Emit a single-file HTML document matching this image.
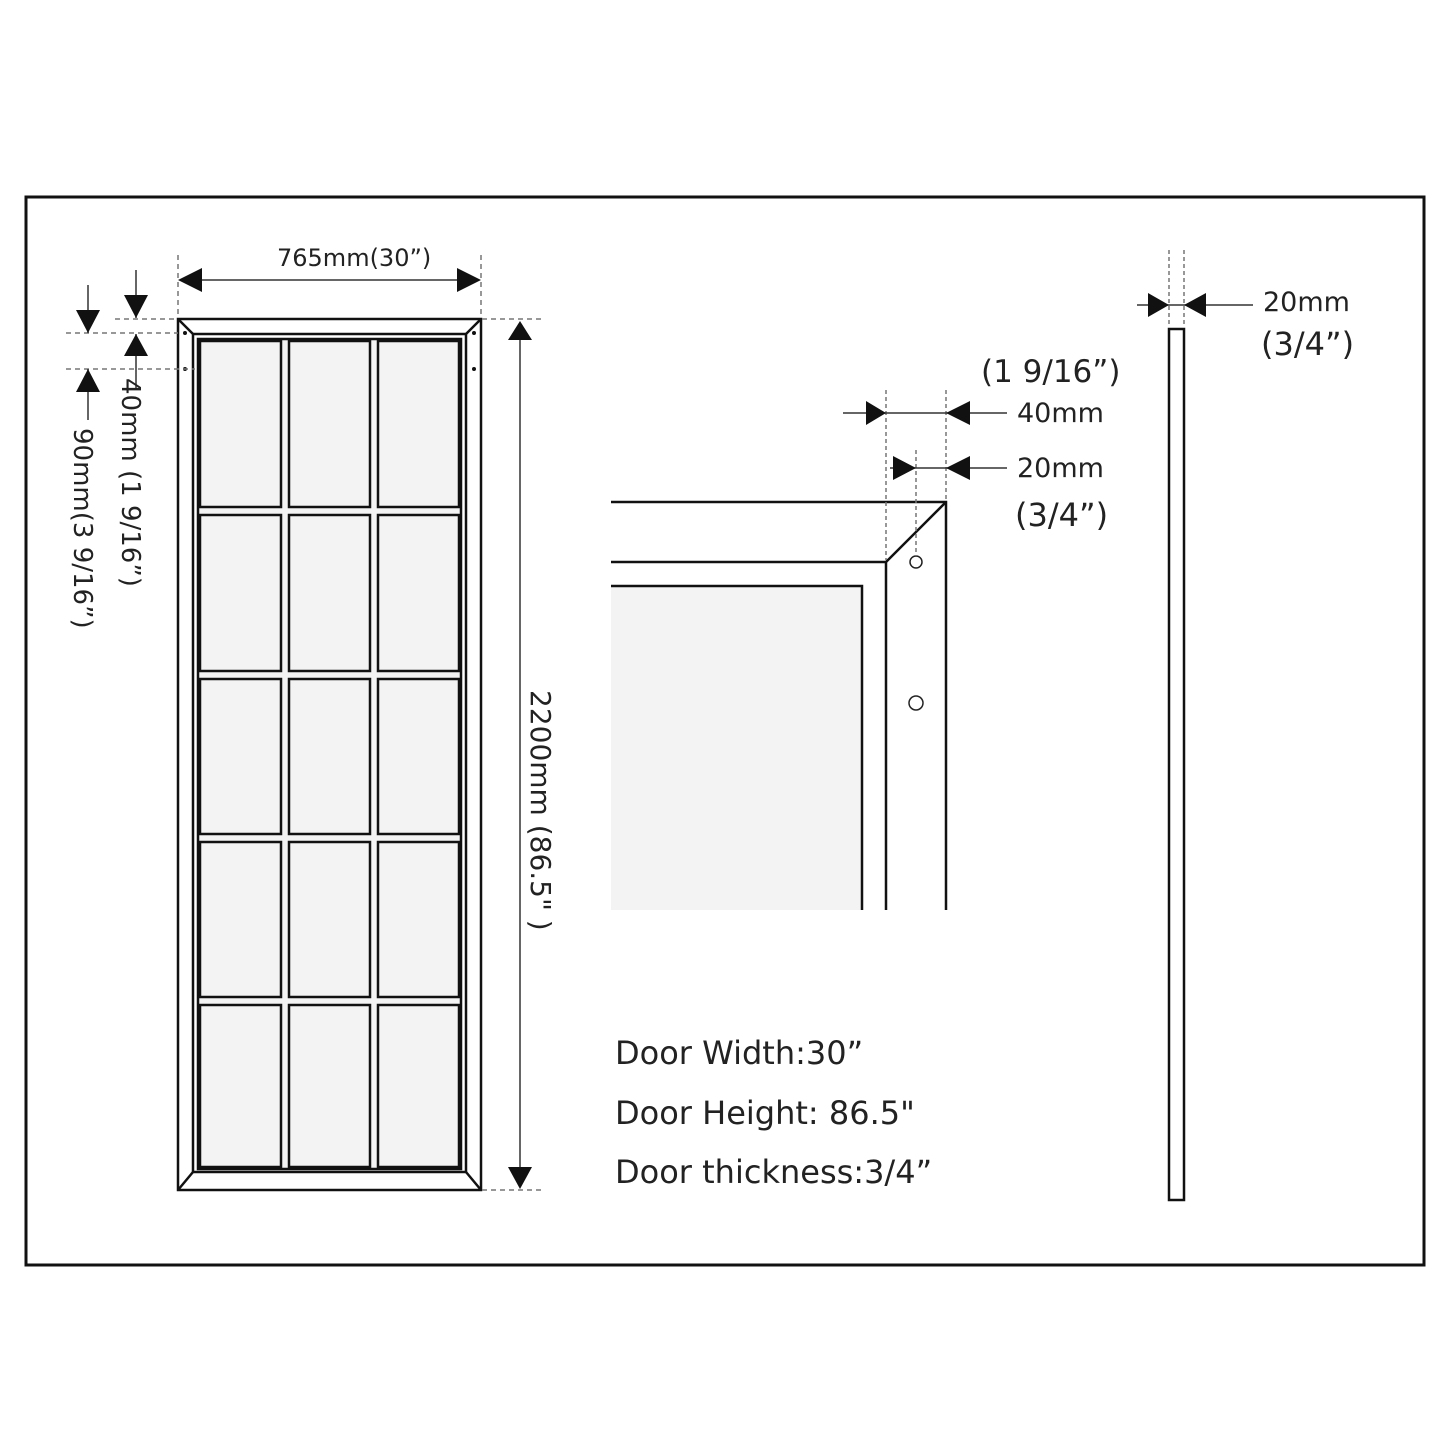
<!DOCTYPE html>
<html><head><style>
html,body{margin:0;padding:0;background:#fff}
svg{display:block}
text{font-family:"DejaVu Sans","Liberation Sans",sans-serif;fill:#222}
</style></head><body>
<svg width="1445" height="1445" viewBox="0 0 1445 1445" xmlns="http://www.w3.org/2000/svg">
<rect x="26" y="197" width="1398" height="1068" fill="none" stroke="#111" stroke-width="3"/>

<!-- main door -->
<g stroke="#111" fill="none" stroke-width="2.5">
<rect x="178" y="319" width="303" height="871" fill="#fff"/>
<rect x="193" y="334" width="273" height="838"/>
<line x1="178" y1="319" x2="193" y2="334"/><line x1="481" y1="319" x2="466" y2="334"/>
<line x1="178" y1="1190" x2="193" y2="1172"/><line x1="481" y1="1190" x2="466" y2="1172"/>
<rect x="198" y="339" width="263" height="830" fill="#f3f3f3"/>
</g>
<g stroke="#111" fill="#f3f3f3" stroke-width="2.5">
<rect x="200" y="341" width="81" height="166"/><rect x="289" y="341" width="81" height="166"/><rect x="378" y="341" width="81" height="166"/>
<rect x="200" y="515" width="81" height="156"/><rect x="289" y="515" width="81" height="156"/><rect x="378" y="515" width="81" height="156"/>
<rect x="200" y="679" width="81" height="155"/><rect x="289" y="679" width="81" height="155"/><rect x="378" y="679" width="81" height="155"/>
<rect x="200" y="842" width="81" height="155"/><rect x="289" y="842" width="81" height="155"/><rect x="378" y="842" width="81" height="155"/>
<rect x="200" y="1005" width="81" height="162"/><rect x="289" y="1005" width="81" height="162"/><rect x="378" y="1005" width="81" height="162"/>
</g>
<g fill="#111"><circle cx="185" cy="333" r="2"/><circle cx="185" cy="369" r="2"/><circle cx="474" cy="333" r="2"/><circle cx="474" cy="369" r="2"/></g>

<g stroke="#777" stroke-width="1.5" stroke-dasharray="5,4" fill="none">
<line x1="178" y1="255" x2="178" y2="318"/><line x1="481" y1="255" x2="481" y2="318"/>
<line x1="115" y1="319" x2="178" y2="319"/><line x1="482" y1="319" x2="545" y2="319"/>
<line x1="66" y1="333" x2="178" y2="333"/><line x1="66" y1="369" x2="195" y2="369"/>
<line x1="482" y1="1190" x2="545" y2="1190"/>
</g>
<g stroke="#333" stroke-width="1.5" fill="none">
<line x1="185" y1="280" x2="474" y2="280"/>
<line x1="520" y1="330" x2="520" y2="1180"/>
<line x1="136" y1="270" x2="136" y2="318"/>
<line x1="136" y1="334" x2="136" y2="388"/>
<line x1="88" y1="285" x2="88" y2="333"/>
<line x1="88" y1="369" x2="88" y2="420"/>
</g>
<g fill="#111">
<path d="M178,280 L202,268 L202,292z"/><path d="M481,280 L457,268 L457,292z"/>
<path d="M520,321 L508,340 L532,340z"/><path d="M520,1189 L508,1167 L532,1167z"/>
<path d="M136,318 L124,295 L148,295z"/><path d="M136,334 L124,356 L148,356z"/>
<path d="M88,333 L76,310 L100,310z"/><path d="M88,369 L76,392 L100,392z"/>
</g>
<text x="277" y="266" font-size="24">765mm(30”)</text>
<text transform="translate(122,378) rotate(90)" font-size="26">40mm (1 9/16”)</text>
<text transform="translate(74,428) rotate(90)" font-size="26">90mm(3 9/16”)</text>
<text transform="translate(531,690) rotate(90)" font-size="28">2200mm (86.5" )</text>

<!-- corner detail -->
<rect x="611" y="586" width="251" height="324" fill="#f3f3f3"/>
<g stroke="#111" stroke-width="2.5" fill="none">
<polyline points="611,502 946,502 946,910"/>
<polyline points="611,562 886,562 886,910"/>
<polyline points="611,586 862,586 862,910"/>
<line x1="886" y1="562" x2="946" y2="502"/>
</g>
<circle cx="916" cy="562" r="6" fill="none" stroke="#222" stroke-width="1.5"/>
<circle cx="916" cy="703" r="7" fill="none" stroke="#222" stroke-width="1.5"/>
<g stroke="#777" stroke-width="1.5" stroke-dasharray="4,3">
<line x1="886" y1="390" x2="886" y2="560"/><line x1="946" y1="390" x2="946" y2="500"/><line x1="916" y1="450" x2="916" y2="556"/>
</g>
<g stroke="#333" stroke-width="1.5">
<line x1="843" y1="413" x2="1007" y2="413"/>
<line x1="890" y1="468" x2="1007" y2="468"/>
</g>
<g fill="#111">
<path d="M886,413 L866,401 L866,425z"/><path d="M946,413 L970,401 L970,425z"/>
<path d="M916,468 L893,456 L893,480z"/><path d="M946,468 L970,456 L970,480z"/>
</g>
<text x="981" y="382" font-size="31">(1 9/16”)</text>
<text x="1017" y="422" font-size="27">40mm</text>
<text x="1017" y="477" font-size="27">20mm</text>
<text x="1015" y="526" font-size="32">(3/4”)</text>

<!-- thickness -->
<rect x="1169" y="329" width="15" height="871" fill="#fff" stroke="#111" stroke-width="2.5"/>
<g stroke="#777" stroke-width="1.5" stroke-dasharray="4,3">
<line x1="1169" y1="250" x2="1169" y2="325"/><line x1="1184" y1="250" x2="1184" y2="325"/>
</g>
<line x1="1137" y1="305" x2="1253" y2="305" stroke="#333" stroke-width="1.5"/>
<g fill="#111"><path d="M1169,305 L1148,293 L1148,317z"/><path d="M1184,305 L1206,293 L1206,317z"/></g>
<text x="1263" y="311" font-size="27">20mm</text>
<text x="1261" y="355" font-size="32">(3/4”)</text>

<text x="615" y="1064" font-size="32">Door Width:30”</text>
<text x="615" y="1124" font-size="32">Door Height: 86.5"</text>
<text x="615" y="1183" font-size="32">Door thickness:3/4”</text>
</svg>
</body></html>
